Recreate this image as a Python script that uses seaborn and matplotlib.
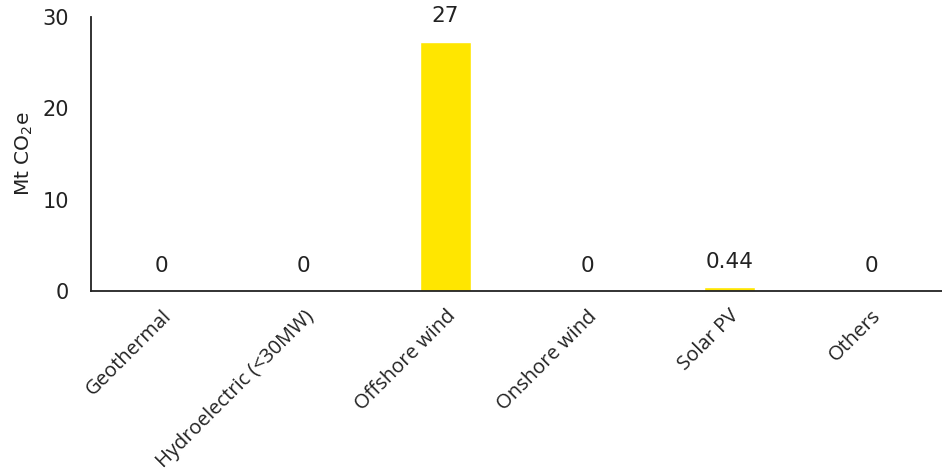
import matplotlib
matplotlib.use("Agg")
import matplotlib.pyplot as plt
import seaborn as sns
import pandas as pd

categories = ["Geothermal", "Hydroelectric (<30MW)", "Offshore wind",
              "Onshore wind", "Solar PV", "Others"]
values = [0, 0, 27.3, 0, 0.44, 0]
bar_labels = ["0", "0", "27", "0", "0.44", "0"]

df = pd.DataFrame({"tech": categories, "mt": values})

sns.set_theme(style="white")
plt.rcParams["font.family"] = ["DejaVu Sans"]

fig = plt.figure(figsize=(9.42, 4.71), dpi=100)
ax = fig.add_axes([0.0966, 0.382, 0.9034, 0.582])

sns.barplot(data=df, x="tech", y="mt", color="#FFE600", width=0.36,
            saturation=1, ax=ax)

for i, lab in enumerate(bar_labels):
    ax.annotate(lab, (i, values[i]), xytext=(0, 11), textcoords="offset points",
                ha="center", va="bottom", fontsize=15.5, color="#222222")

ax.set_ylim(0, 30)
ax.set_yticks([0, 10, 20, 30])
ax.set_xlim(-0.5, 5.5)
ax.set_xlabel("")
ax.set_ylabel("Mt CO$_2$e", fontsize=14.5, color="#222222", labelpad=5)
ax.tick_params(axis="y", length=0, labelsize=15, labelcolor="#222222", pad=16)
ax.tick_params(axis="x", length=0, pad=11)
ax.set_xticks(range(len(categories)))
ax.set_xticklabels(categories, rotation=45, ha="right", rotation_mode="anchor",
                   fontsize=14.5, family=["Open Sans", "DejaVu Sans"], color="#222222")

for s in ["top", "right"]:
    ax.spines[s].set_visible(False)
for s in ["left", "bottom"]:
    ax.spines[s].set_color("#222222")
    ax.spines[s].set_linewidth(1.3)

fig.savefig("out.png", dpi=100)
